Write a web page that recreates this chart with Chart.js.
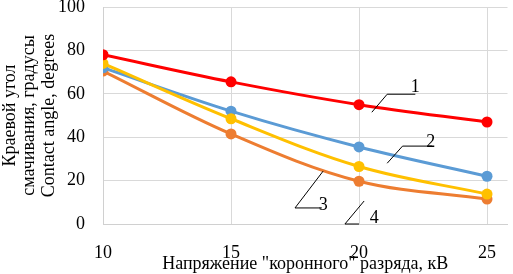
<!DOCTYPE html>
<html>
<head>
<meta charset="utf-8">
<script src="https://cdn.jsdelivr.net/npm/chart.js@4/dist/chart.umd.min.js"></script>
<style>
  html, body { margin: 0; padding: 0; background: #fff; }
  #wrap { width: 513px; height: 274px; }
</style>
</head>
<body>
<div id="wrap"><canvas id="AngleChart"></canvas></div>
<script>
// Voltage of corona discharge, kV
const voltage = [10, 15, 20, 25];
// Contact angle, degrees (curves 1..4)
const curve1 = [78, 65.5, 55, 47];
const curve2 = [72, 52, 35.5, 22];
const curve3 = [74, 48.5, 26.5, 13.8];
const curve4 = [70.5, 41.5, 19.7, 11.5];
const xTicks = [10, 15, 20, 25];

// curve number labels with leader lines (data units)
const labelText = ['1', '2', '3', '4'];
const labelAt = [[22.2, 63], [22.8, 37.5], [18.6, 8.7], [20.6, 2.5]];
const leaderFrom = [[20.5, 51.5], [21.1, 28], [18.6, 24.4], [20.2, 10.6]];
const leaderKnee = [[21.1, 59.8], [21.7, 35.9], [17.5, 7.4], [19.45, 0]];
const leaderEnd = [[22.2, 59.8], [22.85, 35.9], [18.55, 7.4], [20.0, 0]];

const serif = '"Liberation Serif", "Times New Roman", serif';

const curveLabels = {
    id: 'curveLabels',
    afterDatasetsDraw(chart) {
        const ctx = chart.ctx;
        const xs = chart.scales.x, ys = chart.scales.y;
        const px = p => [xs.getPixelForValue(p[0]), ys.getPixelForValue(p[1])];
        ctx.save();
        ctx.strokeStyle = '#000';
        ctx.lineWidth = 1;
        ctx.fillStyle = '#000';
        ctx.font = '18px ' + serif;
        ctx.textAlign = 'center';
        ctx.textBaseline = 'middle';
        labelText.forEach((t, i) => {
            const a = px(leaderFrom[i]), b = px(leaderKnee[i]), c = px(leaderEnd[i]);
            ctx.beginPath();
            ctx.moveTo(a[0], a[1]);
            ctx.lineTo(b[0], b[1]);
            ctx.lineTo(c[0], c[1]);
            ctx.stroke();
            const p = px(labelAt[i]);
            ctx.fillText(t, p[0], p[1]);
        });
        ctx.restore();
    }
};

function series(label, data, color, order) {
    return {
        label: label,
        data: data.map((v, i) => ({ x: voltage[i], y: v })),
        borderColor: color,
        backgroundColor: color,
        borderWidth: 3,
        pointRadius: 5.5,
        pointBorderWidth: 0,
        tension: 0.35,
        order: order
    };
}

const data = {
    datasets: [
        series('1', curve1, '#ff0000', 0),
        series('2', curve2, '#5b9bd5', 2),
        series('3', curve3, '#ffc000', 1),
        series('4', curve4, '#ed7d31', 3)
    ]
};

const config = {
    type: 'line',
    data: data,
    options: {
        responsive: true,
        maintainAspectRatio: false,
        animation: false,
        layout: { padding: 0 },
        plugins: {
            legend: { display: false },
            tooltip: { enabled: false }
        },
        scales: {
            x: {
                type: 'linear',
                min: 10,
                max: 25.8,
                afterBuildTicks: axis => { axis.ticks = xTicks.map(v => ({ value: v })); },
                afterFit: axis => {
                    axis.height = 50;
                    axis.paddingLeft = 0;
                    axis.paddingRight = 0;
                },
                border: { color: '#d0d0d0' },
                grid: { color: '#d9d9d9', drawTicks: false },
                ticks: {
                    color: '#000',
                    padding: 20,
                    maxRotation: 0,
                    font: { family: serif, size: 18, lineHeight: 1 }
                },
                title: {
                    display: true,
                    text: 'Напряжение "коронного" разряда, кВ',
                    color: '#000',
                    padding: 0,
                    font: { family: serif, size: 18, lineHeight: 1.1 }
                }
            },
            y: {
                min: 0,
                max: 100,
                afterFit: axis => {
                    axis.width = 103;
                    axis.paddingTop = 7;
                    axis.paddingBottom = 0;
                },
                border: { color: '#d0d0d0' },
                grid: { color: '#d9d9d9', drawTicks: false },
                ticks: {
                    stepSize: 20,
                    color: '#000',
                    padding: 18,
                    font: { family: serif, size: 18, lineHeight: 1 }
                },
                title: {
                    display: true,
                    text: ['Краевой угол', 'смачивания, градусы', 'Contact angle, degrees'],
                    color: '#000',
                    padding: 0,
                    font: { family: serif, size: 18, lineHeight: 1.1 }
                }
            }
        }
    },
    plugins: [curveLabels]
};

new Chart(document.getElementById('AngleChart').getContext('2d'), config);
</script>
</body>
</html>
